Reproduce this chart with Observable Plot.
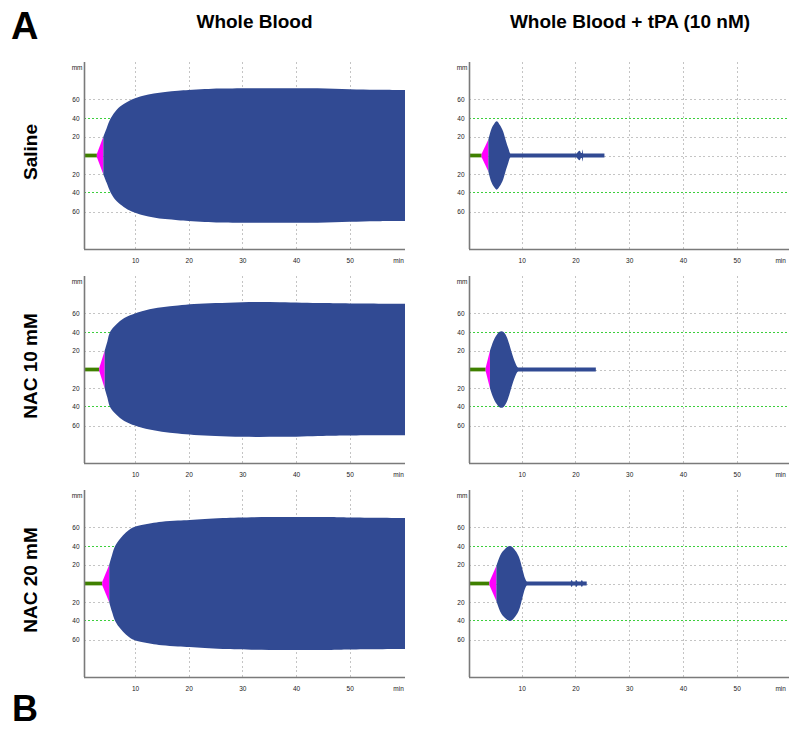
<!DOCTYPE html>
<html>
<head>
<meta charset="utf-8">
<script src="https://cdn.jsdelivr.net/npm/d3@7"></script>
<script src="https://cdn.jsdelivr.net/npm/@observablehq/plot@0.6"></script>
<style>
  html, body { margin: 0; padding: 0; background: #fff; }
  body { width: 789px; height: 729px; overflow: hidden; position: relative; font-family: "Liberation Sans", Arial, sans-serif; }
  .panel { position: absolute; }
  .panel svg { max-width: none !important; display: block; }
  #labels { position: absolute; left: 0; top: 0; }
</style>
</head>
<body>
<svg id="labels" width="789" height="729"></svg>
<script>
// ---- Labels ----
const columnTitles = ["Whole Blood", "Whole Blood + tPA (10 nM)"];
const rowTitles = ["Saline", "NAC 10 mM", "NAC 20 mM"];
const panelLetters = ["A", "B"];

// ---- Axis ticks ----
const xTicks = [10, 20, 30, 40, 50];
const yTicks = [60, 40, 20, -20, -40, -60];
const grayGrid = [60, 20, 0, -20, -60];
const greenGridTop = [40];
const greenGridBottom = [-40];

// ---- Traces: [time (min), amplitude (mm), phase] g = CT, m = CFT, b = clot ----
const traceSalineWB = [
  [0.5, 2, "g"], [2.9, 2, "g"],
  [2.9, 2, "m"], [4.1, 20, "m"],
  [4.1, 20, "b"], [4.7, 29, "b"], [5.5, 40, "b"], [6.6, 49, "b"], [7.9, 55, "b"], [9.4, 60, "b"],
  [11.5, 64, "b"], [13.5, 66.2, "b"], [15.6, 68, "b"], [18, 69.2, "b"], [20, 70, "b"], [23, 71, "b"],
  [26, 71.6, "b"], [35, 72, "b"], [44, 71.8, "b"], [50, 70.8, "b"], [55, 70.2, "b"], [60.3, 70, "b"]
];
const traceNac10WB = [
  [0.5, 2, "g"], [3.35, 2, "g"],
  [3.35, 2, "m"], [4.35, 20, "m"],
  [4.35, 20, "b"], [4.85, 30, "b"], [5.35, 40, "b"], [6.5, 48, "b"], [8, 55, "b"], [10, 60, "b"],
  [12, 63.5, "b"], [15, 66.5, "b"], [18, 68.5, "b"], [21, 70, "b"], [25, 71, "b"], [30, 72, "b"],
  [37, 72, "b"], [45, 71, "b"], [50, 70.6, "b"], [60.3, 70.4, "b"]
];
const traceNac20WB = [
  [0.5, 2, "g"], [3.9, 2, "g"],
  [3.9, 2, "m"], [5.2, 20, "m"],
  [5.2, 20, "b"], [5.7, 30, "b"], [6.3, 40, "b"], [7.3, 48.5, "b"], [8.3, 54.5, "b"], [9.5, 59.5, "b"],
  [11, 62.3, "b"], [13, 64.4, "b"], [15, 66, "b"], [18, 67.3, "b"], [20.2, 68, "b"], [23, 69, "b"],
  [26.4, 70, "b"], [35, 71, "b"], [46, 71, "b"], [50, 70.5, "b"], [60.3, 70, "b"]
];
const traceSalineTPA = [
  [0.2, 2, "g"], [2.55, 2, "g"],
  [2.55, 2, "m"], [3.8, 17, "m"],
  [3.8, 17, "b"], [4.4, 29, "b"], [4.9, 34, "b"], [5.34, 36.5, "b"], [5.9, 33, "b"], [6.57, 25.5, "b"],
  [7.1, 15, "b"], [7.5, 8, "b"], [7.9, 2.2, "b"], [20.2, 2.2, "b"], [20.5, 4, "b"], [20.8, 5, "b"],
  [21.05, 2.8, "b"], [21.2, 2.8, "b"], [21.3, 6.5, "b"], [21.45, 2.2, "b"], [25.4, 2.2, "b"]
];
const traceNac10TPA = [
  [0.2, 2, "g"], [3.3, 2, "g"],
  [3.3, 2, "m"], [4.1, 20, "m"],
  [4.1, 20, "b"], [4.7, 30, "b"], [5.35, 37, "b"], [5.8, 40, "b"], [6.3, 41, "b"], [6.8, 39, "b"],
  [7.2, 35, "b"], [7.7, 27, "b"], [8.1, 19, "b"], [8.75, 8, "b"], [9.35, 2.2, "b"], [23.8, 2.2, "b"]
];
const traceNac20TPA = [
  [0.2, 2, "g"], [4.0, 2, "g"],
  [4.0, 2, "m"], [5.3, 19, "m"],
  [5.3, 19, "b"], [6.0, 30, "b"], [6.9, 37, "b"], [7.8, 40, "b"], [8.7, 36, "b"], [9.7, 25, "b"],
  [10.2, 14, "b"], [10.6, 6, "b"], [11.0, 2.2, "b"],
  [19.1, 2.2, "b"], [19.3, 3.8, "b"], [19.5, 2.2, "b"],
  [20.0, 2.2, "b"], [20.2, 3.8, "b"], [20.4, 2.2, "b"],
  [21.0, 2.2, "b"], [21.2, 3.8, "b"], [21.4, 2.2, "b"], [22.1, 2.2, "b"]
];

const phaseColors = { g: "#3f8000", m: "#ff00ff", b: "#314a93" };
const greenDots = { stroke: "#3ccf3c", strokeWidth: 1, strokeDasharray: "2,2", shapeRendering: "crispEdges" };

function panel(trace, x0, plotW, marginRight, smooth, minPos) {
  const marks = [
    Plot.ruleX(xTicks, { stroke: "#c4c4c4", strokeWidth: 1, strokeDasharray: "2,2.5", shapeRendering: "crispEdges" }),
    Plot.ruleY(grayGrid, { stroke: "#c4c4c4", strokeWidth: 1, strokeDasharray: "2,2.5", shapeRendering: "crispEdges" }),
    Plot.ruleY(greenGridTop, greenDots),
    Plot.ruleY(greenGridBottom, { ...greenDots, dy: -1 })
  ];
  for (const ph of ["g", "m", "b"]) {
    marks.push(Plot.areaY(trace.filter(d => d[2] === ph), {
      x: d => d[0], y1: d => -d[1], y2: d => d[1],
      fill: phaseColors[ph], curve: ph === "b" ? smooth : "linear"
    }));
  }
  marks.push(
    Plot.ruleX([x0], { stroke: "#7a7a7a", strokeWidth: 1.6 }),
    Plot.ruleY([-100], { stroke: "#7a7a7a", strokeWidth: 1.6 }),
    Plot.text(xTicks, { x: d => d, y: -100, dy: 11, text: d => String(d), fill: "#222" }),
    Plot.text(yTicks, { x: x0, y: d => d, dx: -5, textAnchor: "end", text: d => String(Math.abs(d)), fill: "#222" }),
    Plot.text(["mm"], { x: x0, y: 94.5, dx: -2, textAnchor: "end", text: d => d, fill: "#222" }),
    Plot.text(["min"], { x: minPos, y: -100, dy: 11, text: d => d, fill: "#222" })
  );
  return Plot.plot({
    width: 44 + plotW + marginRight,
    height: 230,
    marginLeft: 44,
    marginRight: marginRight,
    marginTop: 16,
    marginBottom: 27,
    x: { domain: [x0, 60.3], axis: null },
    y: { domain: [-100, 100], axis: null },
    style: { fontFamily: "'Liberation Sans', Arial, sans-serif", fontSize: "6.5px", background: "transparent", overflow: "visible" },
    marks
  });
}

const traces = [
  [traceSalineWB, traceSalineTPA],
  [traceNac10WB, traceNac10TPA],
  [traceNac20WB, traceNac20TPA]
];
const rowTops = [46, 260, 474];
const colLefts = [40, 425];
const colX0 = [0.5, 0.2];
const colPlotW = [321, 323];
const colMarginR = [15, 12];
const colCurve = ["catmull-rom", "monotone-x"];
const colMinLabel = [59, 58.1];

traces.forEach((row, r) => {
  row.forEach((tr, c) => {
    const el = panel(tr, colX0[c], colPlotW[c], colMarginR[c], colCurve[c], colMinLabel[c]);
    el.style.maxWidth = "none";
    const div = document.createElement("div");
    div.className = "panel";
    div.style.left = colLefts[c] + "px";
    div.style.top = rowTops[r] + "px";
    div.style.width = (44 + colPlotW[c] + colMarginR[c]) + "px";
    div.appendChild(el);
    document.body.appendChild(div);
  });
});

// ---- Annotation labels ----
const svg = d3.select("#labels");
const font = "'Liberation Sans', Arial, sans-serif";
svg.append("text").attr("x", 11).attr("y", 39).attr("font-family", font).attr("font-weight", "bold")
  .attr("font-size", 38).text(panelLetters[0]);
svg.append("text").attr("x", 12).attr("y", 721).attr("font-family", font).attr("font-weight", "bold")
  .attr("font-size", 36).text(panelLetters[1]);
const titleX = [254.5, 630];
columnTitles.forEach((t, i) => {
  svg.append("text").attr("x", titleX[i]).attr("y", 28).attr("text-anchor", "middle")
    .attr("font-family", font).attr("font-weight", "bold").attr("font-size", 19).text(t);
});
const rowCenters = [152, 366, 580];
rowTitles.forEach((t, i) => {
  svg.append("text").attr("transform", `translate(37,${rowCenters[i]}) rotate(-90)`)
    .attr("text-anchor", "middle").attr("font-family", font).attr("font-weight", "bold")
    .attr("font-size", 19).text(t);
});
</script>
</body>
</html>
